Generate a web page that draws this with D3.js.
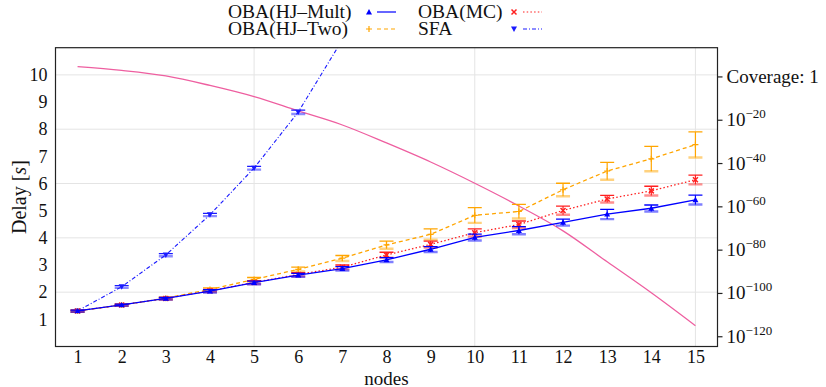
<!DOCTYPE html>
<html>
<head>
<meta charset="utf-8">
<script src="https://cdn.jsdelivr.net/npm/d3@7"></script>
<style>
  html, body { margin: 0; padding: 0; background: #ffffff; }
  svg { display: block; }
  text { font-family: "Liberation Serif", "Times New Roman", serif; fill: #111; }
</style>
</head>
<body>
<svg id="chart" width="826" height="387"></svg>
<script>
// ---------------- data ----------------
const nodes = [1, 2, 3, 4, 5, 6, 7, 8, 9, 10, 11, 12, 13, 14, 15];
const xTickLabels = ["1","2","3","4","5","6","7","8","9","10","11","12","13","14","15"];
const yTickValues = [1, 2, 3, 4, 5, 6, 7, 8, 9, 10];
const gridY = [2, 4, 6, 8, 10];
const gridX = [5, 10, 15];

const hjMult    = [1.31, 1.53, 1.77, 2.04, 2.35, 2.63, 2.87, 3.19, 3.58, 4.02, 4.27, 4.57, 4.87, 5.09, 5.40];
const hjMultErr = [0.03, 0.03, 0.04, 0.05, 0.06, 0.06, 0.07, 0.08, 0.10, 0.12, 0.14, 0.12, 0.18, 0.12, 0.17];
const hjTwo     = [1.31, 1.53, 1.78, 2.10, 2.47, 2.84, 3.25, 3.74, 4.13, 4.83, 4.97, 5.77, 6.46, 6.91, 7.43];
const hjTwoErr  = [0.03, 0.03, 0.04, 0.06, 0.07, 0.08, 0.10, 0.14, 0.20, 0.28, 0.26, 0.24, 0.32, 0.46, 0.47];
const mc        = [1.31, 1.53, 1.77, 2.05, 2.36, 2.65, 2.92, 3.37, 3.76, 4.19, 4.49, 5.01, 5.43, 5.73, 6.14];
const mcErr     = [0.03, 0.03, 0.04, 0.05, 0.06, 0.07, 0.08, 0.10, 0.12, 0.14, 0.13, 0.16, 0.13, 0.17, 0.17];
const sfaNodes  = [1, 2, 3, 4, 5, 6, 7];
const sfa       = [1.31, 2.20, 3.37, 4.85, 6.57, 8.63, 11.29];
const sfaErr    = [0.03, 0.04, 0.05, 0.05, 0.06, 0.07, 0.08];
// coverage, as exponent of ten (right log axis)
const coverageExp = [4.76, 3.0, 0.46, -3.93, -9.1, -15.7, -22.2, -30.5, -39.3, -49.1, -59.6, -71.1, -85.4, -99.7, -114.9];
const rightTickExp = [0, -20, -40, -60, -80, -100, -120];

const seriesNames = ["OBA(HJ\u2013Mult)", "OBA(HJ\u2013Two)", "OBA(MC)", "SFA"];

// ---------------- layout ----------------
const svg = d3.select("#chart");
const L = 55.5, R = 717.5, T = 47.7, B = 346.5;

const x = d3.scaleLinear().domain([0.5, 15.5]).range([L, R]);
const y = d3.scaleLinear().domain([0, 11]).range([B, T]);
const yR = d3.scaleLog().domain([Math.pow(10, -124.5), Math.pow(10, 13.5)]).range([B, T]);

// clip
svg.append("defs").append("clipPath").attr("id", "clip")
  .append("rect").attr("x", L).attr("y", T).attr("width", R - L).attr("height", B - T);

// grid
const grid = svg.append("g");
grid.selectAll("line.gy").data(gridY).join("line")
  .attr("x1", L).attr("x2", R).attr("y1", d => y(d)).attr("y2", d => y(d))
  .attr("stroke", "#e4e4e4").attr("stroke-width", 1);
grid.selectAll("line.gx").data(gridX).join("line")
  .attr("y1", T).attr("y2", B).attr("x1", d => x(d)).attr("x2", d => x(d))
  .attr("stroke", "#e4e4e4").attr("stroke-width", 1);

const plot = svg.append("g").attr("clip-path", "url(#clip)");

// coverage curve
const covData = nodes.map((n, i) => ({ n, v: Math.pow(10, coverageExp[i]) }));
plot.append("path").datum(covData)
  .attr("fill", "none").attr("stroke", "#ee5fa0").attr("stroke-width", 1.3)
  .attr("d", d3.line().x(d => x(d.n)).y(d => yR(d.v)).curve(d3.curveMonotoneX));

function drawSeries(xs, vals, errs, color, dash, marker, width) {
  const data = xs.map((n, i) => ({ n, v: vals[i], e: errs[i] }));
  const g = plot.append("g");
  g.append("path").datum(data)
    .attr("fill", "none").attr("stroke", color).attr("stroke-width", width)
    .attr("stroke-dasharray", dash)
    .attr("d", d3.line().x(d => x(d.n)).y(d => y(d.v)));
  // error bars
  const eb = g.selectAll("g.eb").data(data).join("g");
  eb.append("line")
    .attr("x1", d => x(d.n)).attr("x2", d => x(d.n))
    .attr("y1", d => y(d.v - d.e)).attr("y2", d => y(d.v + d.e))
    .attr("stroke", color).attr("stroke-width", 1.2);
  eb.append("line")
    .attr("x1", d => x(d.n) - 7).attr("x2", d => x(d.n) + 7)
    .attr("y1", d => y(d.v + d.e)).attr("y2", d => y(d.v + d.e))
    .attr("stroke", color).attr("stroke-width", 1.3);
  eb.append("line")
    .attr("x1", d => x(d.n) - 7).attr("x2", d => x(d.n) + 7)
    .attr("y1", d => y(d.v - d.e)).attr("y2", d => y(d.v - d.e))
    .attr("stroke", color).attr("stroke-width", 2.4).attr("stroke-opacity", 0.5);
  // markers
  eb.each(function (d) {
    drawMarker(d3.select(this), marker, x(d.n), y(d.v), color);
  });
}

function drawMarker(sel, type, cx, cy, color) {
  const s = 3;
  if (type === "tri-up") {
    sel.append("path").attr("d", `M${cx},${cy - s} L${cx + s},${cy + s * 0.8} L${cx - s},${cy + s * 0.8} Z`)
      .attr("fill", color);
  } else if (type === "tri-down") {
    sel.append("path").attr("d", `M${cx},${cy + s} L${cx + s},${cy - s * 0.8} L${cx - s},${cy - s * 0.8} Z`)
      .attr("fill", color);
  } else if (type === "plus") {
    sel.append("path").attr("d", `M${cx - s},${cy} H${cx + s} M${cx},${cy - s} V${cy + s}`)
      .attr("stroke", color).attr("stroke-width", 1.2);
  } else if (type === "cross") {
    sel.append("path").attr("d", `M${cx - 2.5},${cy - 2.5} L${cx + 2.5},${cy + 2.5} M${cx + 2.5},${cy - 2.5} L${cx - 2.5},${cy + 2.5}`)
      .attr("stroke", color).attr("stroke-width", 1.5);
  }
}

drawSeries(sfaNodes, sfa, sfaErr, "#1a1aff", "4,2,1,2", "tri-down", 1.1);
drawSeries(nodes, hjTwo, hjTwoErr, "#ffa500", "4,3", "plus", 1.3);
drawSeries(nodes, mc, mcErr, "#ff2020", "1.5,2.2", "cross", 1.3);
drawSeries(nodes, hjMult, hjMultErr, "#0000ff", null, "tri-up", 1.3);

// frame
svg.append("rect").attr("x", L).attr("y", T).attr("width", R - L).attr("height", B - T)
  .attr("fill", "none").attr("stroke", "#222").attr("stroke-width", 1.2);

// left axis
const yAxis = d3.axisLeft(y).tickValues(yTickValues).tickSize(0).tickPadding(8).tickFormat(d3.format("d"));
const gy = svg.append("g").attr("transform", `translate(${L},0)`).call(yAxis);
gy.select(".domain").remove();
gy.selectAll("text").style("font-size", "18px").style("font-family", "'Liberation Serif', serif").attr("fill", "#111");

// bottom axis
const xAxis = d3.axisBottom(x).tickValues(nodes).tickSize(0).tickPadding(4).tickFormat((d, i) => xTickLabels[i]);
const gx = svg.append("g").attr("transform", `translate(0,${B})`).call(xAxis);
gx.select(".domain").remove();
gx.selectAll("text").style("font-size", "18px").style("font-family", "'Liberation Serif', serif").attr("fill", "#111");

// right axis (log)
const gr = svg.append("g").attr("transform", `translate(${R},0)`);
rightTickExp.forEach(e => {
  const yy = yR(Math.pow(10, e));
  gr.append("line").attr("x1", 0).attr("x2", 5).attr("y1", yy).attr("y2", yy).attr("stroke", "#222").attr("stroke-width", 1.2);
  const t = gr.append("text").attr("x", 9).attr("y", yy + 6).style("font-size", "19px");
  if (e === 0) {
    t.text("Coverage: 1");
  } else {
    t.append("tspan").text("10");
    t.append("tspan").attr("dy", -8).style("font-size", "13px").text("\u2212" + Math.abs(e));
  }
});

// axis titles
svg.append("text").attr("x", x(8)).attr("y", 384.5).attr("text-anchor", "middle")
  .style("font-size", "19px").text("nodes");
const yl = svg.append("text").attr("transform", `translate(26,${(T + B) / 2}) rotate(-90)`)
  .attr("text-anchor", "middle").style("font-size", "20px");
yl.append("tspan").text("Delay [");
yl.append("tspan").style("font-style", "italic").text("s");
yl.append("tspan").text("]");

// legend
const legend = svg.append("g");
const legItems = [
  { name: seriesNames[0], color: "#0000ff", dash: null, marker: "tri-up", tx: 228, mx: 369, lx: 377, ty: 18 },
  { name: seriesNames[1], color: "#ffa500", dash: "4,3", marker: "plus", tx: 228, mx: 369, lx: 377, ty: 35 },
  { name: seriesNames[2], color: "#ff2020", dash: "1.5,2.2", marker: "cross", tx: 418, mx: 514, lx: 523, ty: 18 },
  { name: seriesNames[3], color: "#1a1aff", dash: "4,2,1,2", marker: "tri-down", tx: 418, mx: 514, lx: 523, ty: 35 }
];
legItems.forEach(it => {
  legend.append("text").attr("x", it.tx).attr("y", it.ty).style("font-size", "19.5px").text(it.name);
  const cy = it.ty - 6;
  const g = legend.append("g");
  drawMarker(g, it.marker, it.mx, cy, it.color);
  g.append("line").attr("x1", it.lx).attr("x2", it.lx + 19).attr("y1", cy).attr("y2", cy)
    .attr("stroke", it.color).attr("stroke-width", 1.2).attr("stroke-dasharray", it.dash);
});
</script>
</body>
</html>
